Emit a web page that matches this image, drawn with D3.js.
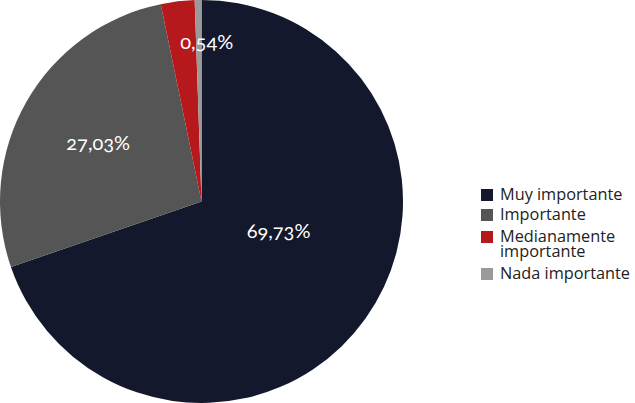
<!DOCTYPE html>
<html>
<head>
<meta charset="utf-8">
<script src="https://cdn.jsdelivr.net/npm/d3@7"></script>
<style>
  body { margin: 0; background: #fff; }
  .lbl { font-family: Lato, "Open Sans", sans-serif; font-variant-numeric: oldstyle-nums; font-feature-settings: "onum"; }
  .leg { font-family: "Open Sans", "Noto Sans", sans-serif; }
</style>
</head>
<body>
<div id="chart"></div>
<script>
var categories = ["Muy importante", "Importante", "Medianamente importante", "Nada importante"];
var legendLines = [["Muy importante"], ["Importante"], ["Medianamente", "importante"], ["Nada importante"]];
var values = [69.73, 27.03, 2.70, 0.54];
var labels = ["69,73%", "27,03%", "", "0,54%"];
var colors = ["#14182c", "#555555", "#b5191b", "#9a9a9a"];

var width = 635, height = 403;
var cx = 201.5, cy = 201.5, radius = 201.5;

var svg = d3.select("#chart")
  .append("svg")
    .attr("width", width)
    .attr("height", height);

var g = svg.append("g")
    .attr("transform", "translate(" + cx + "," + cy + ")");

var pie = d3.pie().sort(null).value(function(d) { return d; });
var arcs = pie(values);

var arc = d3.arc().innerRadius(0).outerRadius(radius);

g.selectAll("path")
  .data(arcs)
  .enter()
  .append("path")
    .attr("d", arc)
    .attr("fill", function(d, i) { return colors[i]; });

// label placement (radius fraction, angle shift in rad)
var labelPlace = [[0.41, -0.25], [0.59, 0], [0.6, 0], [0.79, 0.05]];

g.selectAll("text.lbl")
  .data(arcs)
  .enter()
  .append("text")
    .attr("class", "lbl")
    .attr("transform", function(d, i) {
      var a = (d.startAngle + d.endAngle) / 2 + labelPlace[i][1];
      var r = radius * labelPlace[i][0];
      return "translate(" + (r * Math.sin(a)) + "," + (-r * Math.cos(a)) + ")";
    })
    .attr("dy", "0.35em")
    .attr("text-anchor", "middle")
    .attr("fill", "#fff")
    .style("font-size", "20px")
    .text(function(d, i) { return labels[i]; });

// legend
var legY = [195, 215, 237, 274];
var leg = svg.append("g").attr("transform", "translate(481,0)");

leg.selectAll("rect")
  .data(categories)
  .enter()
  .append("rect")
    .attr("x", 0)
    .attr("y", function(d, i) { return legY[i] - 6; })
    .attr("width", 12)
    .attr("height", 12)
    .attr("fill", function(d, i) { return colors[i]; });

legendLines.forEach(function(lines, i) {
  lines.forEach(function(line, j) {
    leg.append("text")
      .attr("class", "leg")
      .attr("x", 19)
      .attr("y", legY[i] + 5 + j * 15)
      .attr("fill", "#222")
      .style("font-size", "16.3px")
      .text(line);
  });
});
</script>
</body>
</html>
